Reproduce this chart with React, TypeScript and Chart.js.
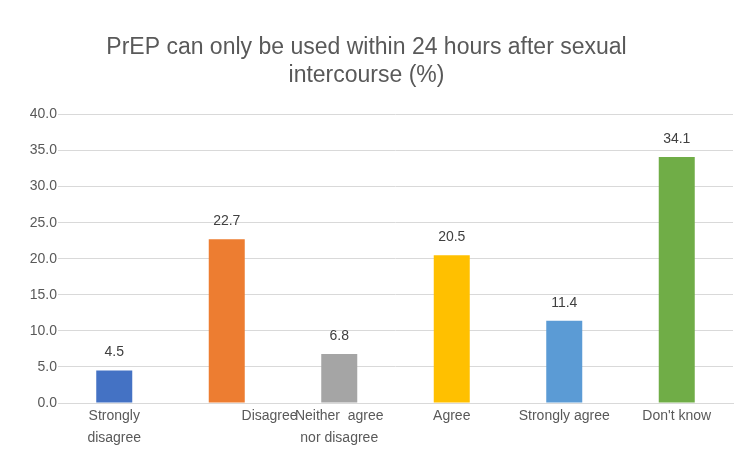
import React, { useEffect, useRef } from "react";
import { Chart, registerables } from "chart.js";

Chart.register(...registerables);

const categories: (string | string[])[] = [
  ["Strongly", "disagree"],
  "Disagree",
  ["Neither  agree", "nor disagree"],
  "Agree",
  "Strongly agree",
  "Don't know",
];
const values = [4.5, 22.7, 6.8, 20.5, 11.4, 34.1];
const barColors = ["#4472C4", "#ED7D31", "#A5A5A5", "#FFC000", "#5B9BD5", "#70AD47"];
const titleLines = ["PrEP can only be used within 24 hours after sexual", "intercourse (%)"];
const yMin = 0;
const yMax = 40;
const yStep = 5;

const FONT = "'Liberation Sans', Arial, sans-serif";

const valueLabels = {
  id: "valueLabels",
  afterDatasetsDraw(chart: any) {
    const ctx = chart.ctx;
    const meta = chart.getDatasetMeta(0);
    ctx.save();
    ctx.font = `14px ${FONT}`;
    ctx.fillStyle = "#404040";
    ctx.textAlign = "center";
    ctx.textBaseline = "middle";
    meta.data.forEach((bar: any, i: number) => {
      const v = chart.data.datasets[0].data[i] as number;
      ctx.fillText(v.toFixed(1), bar.x, bar.y - 18);
    });
    ctx.restore();
  },
};

export default function App() {
  const ref = useRef<HTMLCanvasElement | null>(null);
  useEffect(() => {
    if (!ref.current) return;
    const chart = new Chart(ref.current, {
      type: "bar",
      data: {
        labels: categories,
        datasets: [
          {
            data: values,
            backgroundColor: barColors,
            borderWidth: 0,
            barPercentage: 0.32,
            categoryPercentage: 1,
          },
        ],
      },
      options: {
        responsive: false,
        animation: false,
        devicePixelRatio: 1,
        layout: { padding: { left: 0, right: 5, top: 0, bottom: 0 } },
        plugins: {
          legend: { display: false },
          tooltip: { enabled: false },
          title: {
            display: true,
            text: titleLines,
            color: "#595959",
            font: { family: FONT, size: 23, weight: "normal", lineHeight: 1.25 },
            padding: { top: 33, bottom: 24 },
          },
        },
        scales: {
          x: {
            grid: { display: false, drawTicks: false },
            border: { display: true, color: "#D9D9D9" },
            afterFit: (s: any) => {
              s.height = 54;
            },
            ticks: {
              color: "#595959",
              font: { family: FONT, size: 14, lineHeight: 1.57 },
              padding: 2,
              maxRotation: 0,
              autoSkip: false,
              callback: function (this: any, _v: any, i: number) {
                const l = categories[i];
                if (i === 1) return "\u00a0".repeat(22) + l;
                return l as any;
              },
            },
          },
          y: {
            min: yMin,
            max: yMax,
            grid: { color: "#D9D9D9", lineWidth: 1, drawTicks: false },
            border: { display: false },
            afterFit: (s: any) => {
              s.width = 58;
            },
            ticks: {
              stepSize: yStep,
              color: "#595959",
              font: { family: FONT, size: 14 },
              padding: 1,
              callback: (v: any) => Number(v).toFixed(1),
            },
          },
        },
      },
      plugins: [valueLabels],
    });
    return () => chart.destroy();
  }, []);
  return (
    <div style={{ position: "absolute", left: 0, top: 0, width: 738, height: 457, background: "#fff" }}>
      <canvas ref={ref} width={738} height={457} />
    </div>
  );
}
